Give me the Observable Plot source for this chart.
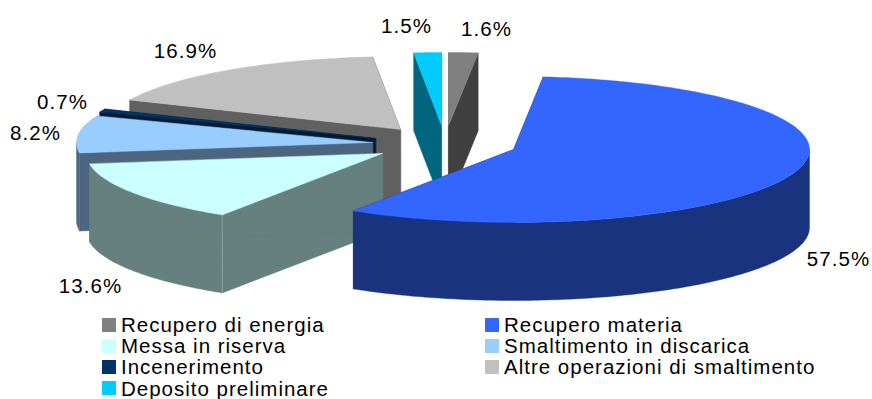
<!DOCTYPE html>
<html lang="it">
<head>
<meta charset="utf-8">
<title>Gestione dei rifiuti</title>
<script src="https://cdn.jsdelivr.net/npm/d3@7"></script>
<script src="https://cdn.jsdelivr.net/npm/@observablehq/plot@0.6"></script>
<style>
  html, body { margin: 0; background: #fff; overflow: hidden; }
  svg text { letter-spacing: 1.05px; }
  #legend {
    display: grid;
    grid-template-columns: 383px auto;
    grid-auto-rows: 21.2px;
    padding-left: 102px;
    padding-top: 2px;
    font: 20.5px/21.2px "Liberation Sans", Arial, sans-serif;
    letter-spacing: 1px;
    color: #000;
  }
  #legend div { display: flex; align-items: center; white-space: nowrap; }
  #legend i { width: 14px; height: 14px; margin-right: 5px; flex: none; }
</style>
</head>
<body>
<div id="chart"></div>
<div id="legend"></div>
<script>
// Slices in clockwise order, starting at twelve o'clock.
const names = ["Recupero di energia", "Recupero materia", "Messa in riserva", "Smaltimento in discarica", "Incenerimento", "Altre operazioni di smaltimento", "Deposito preliminare"];
const values = [1.6, 57.5, 13.6, 8.2, 0.7, 16.9, 1.5];
const valueLabels = ["1.6%", "57.5%", "13.6%", "8.2%", "0.7%", "16.9%", "1.5%"];
const topColors = ["#808080", "#3366FF", "#CCFFFF", "#99CCFF", "#003366", "#C0C0C0", "#00CCFF"];
const wallColors = ["#404040", "#1A337F", "#667F7F", "#4D667F", "#001A33", "#606060", "#00667F"];

// Exploded position of each slice's tip and of its value label, in pixels.
const tipX = [448, 513, 382, 372, 375, 400, 441];
const tipY = [125, 149, 153, 142, 138, 129, 125];
const labelX = [486, 838, 90, 35, 62, 185, 406];
const labelY = [29, 259, 286, 133, 102, 51, 26];

// Back-to-front painting order.
const paintOrder = [0, 6, 5, 4, 3, 2, 1];

const width = 872, height = 312;
const radiusX = 296, radiusY = 73, depth = 78;

// Cumulative start and end angles from the shares.
const total = d3.sum(values);
const ends = d3.cumsum(values).map(v => v / total * 2 * Math.PI);
const starts = ends.map((_, i) => (i ? ends[i - 1] : 0));

function arc(i, from, to) {
  const steps = Math.max(2, Math.ceil((to - from) / 0.015));
  return d3.range(steps + 1).map(k => {
    const a = from + (to - from) * k / steps;
    return {x: tipX[i] + radiusX * Math.sin(a), y: tipY[i] - radiusY * Math.cos(a)};
  });
}

const lowered = p => ({x: p.x, y: p.y + depth});

const polygon = (points, color) =>
  Plot.line(points, {x: "x", y: "y", fill: color, stroke: color, strokeWidth: 0.4, curve: "linear-closed"});

const sliceMarks = i => {
  const rim = arc(i, starts[i], ends[i]);
  const tip = {x: tipX[i], y: tipY[i]};
  const first = rim[0], last = rim[rim.length - 1];
  const parts = [
    polygon([tip, first, lowered(first), lowered(tip)], wallColors[i]),
    polygon([tip, last, lowered(last), lowered(tip)], wallColors[i])
  ];
  // Only the part of the outer wall on the near half of the ellipse shows.
  const from = Math.max(starts[i], Math.PI / 2), to = Math.min(ends[i], 3 * Math.PI / 2);
  if (to > from) {
    const front = arc(i, from, to);
    parts.push(polygon([...front, ...front.map(lowered).reverse()], wallColors[i]));
  }
  // Faint highlight on the front corner of the "Messa in riserva" slice.
  if (i === 2) {
    parts.push(Plot.line([first, lowered(first)], {x: "x", y: "y", stroke: "#94A8A8", strokeWidth: 0.8}));
  }
  parts.push(polygon([tip, ...rim], topColors[i]));
  return parts;
};

const marks = paintOrder.flatMap(sliceMarks);

marks.push(Plot.text(values.map((_, i) => i), {
  x: i => labelX[i],
  y: i => labelY[i],
  text: i => valueLabels[i],
  fontSize: 20.5,
  fill: "#000"
}));

const chart = Plot.plot({
  width, height,
  margin: 0,
  style: {fontFamily: "'Liberation Sans', Arial, sans-serif", background: "#fff"},
  x: {domain: [0, width], range: [0, width], axis: null},
  y: {domain: [0, height], range: [0, height], axis: null},
  marks
});
document.getElementById("chart").append(chart);

// Legend, two columns, filled row by row.
const legend = d3.select("#legend");
names.forEach((name, i) => {
  const row = legend.append("div");
  row.append("i").style("background", topColors[i]);
  row.append("span").text(name);
});
</script>
</body>
</html>
